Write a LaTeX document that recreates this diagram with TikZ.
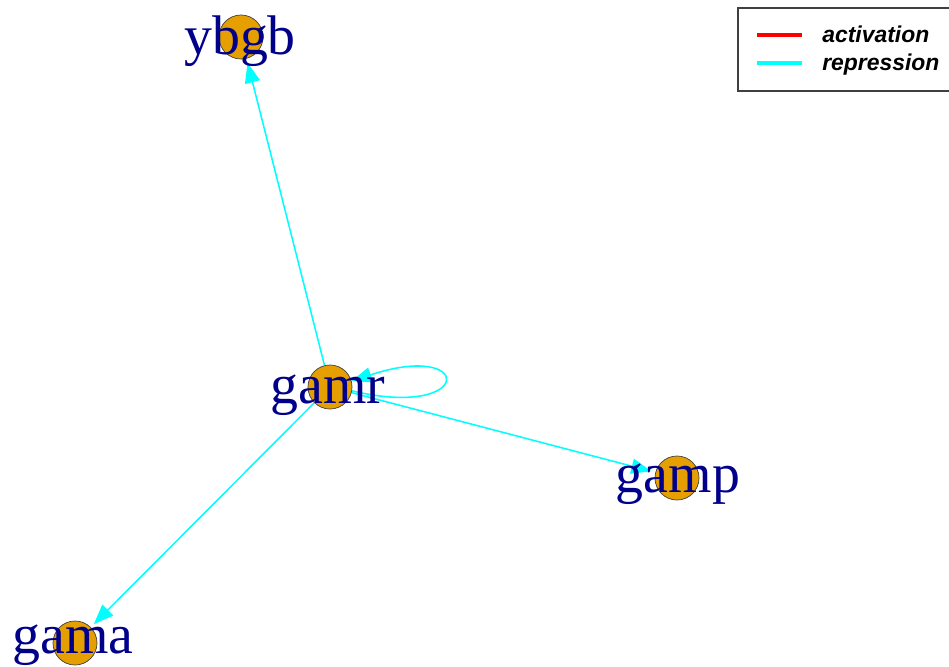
\documentclass[tikz,border=0pt]{standalone}
\usepackage{fontspec}
\usetikzlibrary{arrows.meta,backgrounds}
\newfontfamily\lblfont{Liberation Serif}
\newfontfamily\legfont{Liberation Sans}
\definecolor{vorange}{RGB}{230,159,0}
\definecolor{lblblue}{RGB}{0,0,139}
\definecolor{repcyan}{RGB}{0,255,255}

\begin{document}
\begin{tikzpicture}[x=0.025cm,y=-0.025cm,
  vtx/.style={circle,draw=black!75,fill=vorange,line width=0.5pt,
              minimum size=1.1cm,inner sep=0pt},
  lbl/.style={anchor=base,inner sep=0pt,text=lblblue,
              font=\lblfont\fontsize{39.7}{40}\selectfont},
  edge/.style={-{Triangle[length=0.5cm,width=0.38cm]},repcyan,line width=1.1pt,
               shorten >=3pt},
  legtxt/.style={anchor=base west,inner sep=0pt,
                 font=\legfont\bfseries\itshape\fontsize{16.3}{17}\selectfont}]
\useasboundingbox (0,0) rectangle (949,666);
% vertices
\node[vtx] (ybgb) at (241,37) {};
\node[vtx] (gamr) at (330,387) {};
\node[vtx] (gamp) at (677,478) {};
\node[vtx] (gama) at (75,643) {};
% labels
\node[lbl] (ybgb-l) at (240,54) {ybgb};
\node[lbl] (gamr-l) at (328,403) {gamr};
\node[lbl] (gamp-l) at (678,492) {gamp};
\node[lbl] (gama-l) at (73,653) {gama};
% edges
\begin{scope}[on background layer]
\draw[edge] (gamr) -- (ybgb);
\draw[edge] (gamr) -- (gama);
\draw[edge] (gamr) -- (gamp);
\draw[edge,shorten >=0pt] (gamr.-10) .. controls (475,420) and (475,340) .. (gamr.15);
\end{scope}
% legend
\draw[black!75,line width=1pt] (738,8) rectangle (970,91);
\coordinate (act-a) at (757,35);
\coordinate (act-b) at (802,35);
\coordinate (rep-a) at (757,63);
\coordinate (rep-b) at (802,63);
\draw[red,line width=2.4pt] (act-a) -- (act-b);
\draw[repcyan,line width=2.4pt] (rep-a) -- (rep-b);
\node[legtxt] (act) at (822,42) {activation};
\node[legtxt] (rep) at (822,70) {repression};
\end{tikzpicture}
\end{document}
